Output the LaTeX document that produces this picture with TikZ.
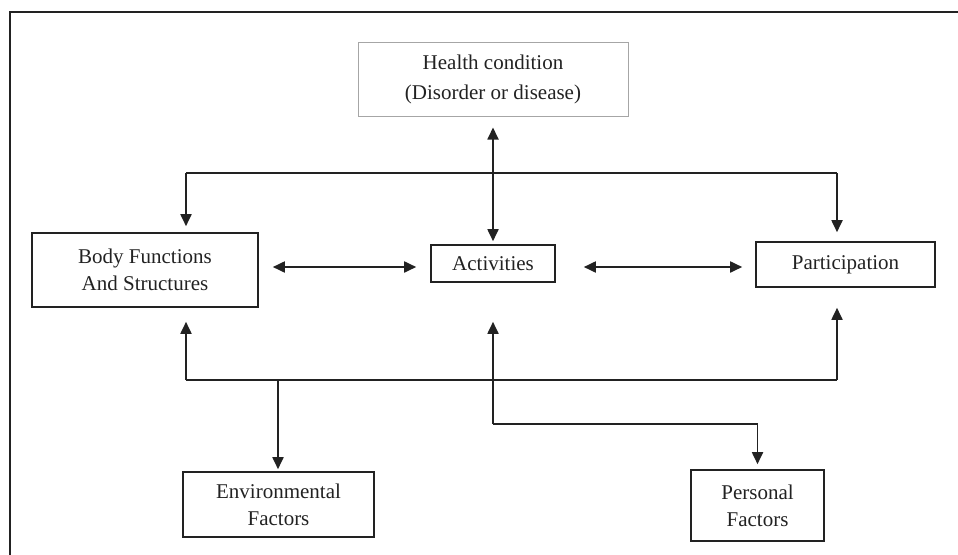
\documentclass[tikz,border=0pt]{standalone}
\usepackage{fontspec}
\setmainfont{Liberation Serif}
\usetikzlibrary{arrows.meta}
\definecolor{ink}{HTML}{222222}
\begin{document}
\begin{tikzpicture}[x=1pt,y=-1pt,
  box/.style={draw=ink,line width=1.6pt,inner sep=0pt,align=center,
    font=\fontsize{21}{27}\selectfont,text=ink},
  conn/.style={draw=ink,line width=1.8pt},
  arr/.style={conn,-{Triangle[width=11pt,length=12pt]}},
  darr/.style={conn,{Triangle[width=11pt,length=12pt]}-{Triangle[width=11pt,length=12pt]}}]
\useasboundingbox (0,0) rectangle (958,554);
\draw[ink,line width=1.6pt] (10,12) rectangle (970,570);
% nodes
\node[box,draw=black!35,line width=1pt,minimum width=270pt,minimum height=74pt,
  font=\fontsize{21}{30}\selectfont] (health) at (493,79) {Health condition\\(Disorder or disease)};
\node[box,minimum width=226pt,minimum height=74pt] (body) at (145,270) {Body Functions\\And Structures};
\node[box,minimum width=124pt,minimum height=37pt] (act) at (493,263.5) {Activities};
\node[box,minimum width=179pt,minimum height=45pt] (part) at (845.5,264.5) {Participation};
\node[box,minimum width=191pt,minimum height=65pt] (env) at (278.5,504.5) {Environmental\\Factors};
\node[box,minimum width=133pt,minimum height=71pt] (pers) at (757.5,505.5) {Personal\\Factors};
% junction coordinates
\coordinate (tl) at (186,173);
\coordinate (tr) at (837,173);
\coordinate (bl) at (186,380);
\coordinate (br) at (837,380);
\coordinate (ej) at (278,380);
\coordinate (pc) at (493,424);
\coordinate (hy) at (0,267);
% top bar
\draw[conn] (tl) -- (tr);
\draw[arr] (tl) -- ([yshift=6pt]tl |- body.north);
\draw[arr] (tr) -- ([yshift=9pt]tr |- part.north);
\draw[darr] ([yshift=-11pt]health.south) -- ([yshift=3pt]act.north);
% horizontal double arrows
\draw[darr] ([xshift=14pt]body.east |- hy) -- ([xshift=-14pt]act.west |- hy);
\draw[darr] ([xshift=28pt]act.east |- hy) -- ([xshift=-13pt]part.west |- hy);
% bottom bar
\draw[conn] (bl) -- (br);
\draw[arr] (bl) -- ([yshift=-14pt]bl |- body.south);
\draw[arr] (br) -- ([yshift=-20pt]br |- part.south);
\draw[arr] (ej) -- ([yshift=2pt]ej |- env.north);
\draw[arr] (pc) -- ([yshift=-39pt]act.south);
\draw[arr] (pc) -| ([yshift=5pt]pers.north);
\end{tikzpicture}
\end{document}
